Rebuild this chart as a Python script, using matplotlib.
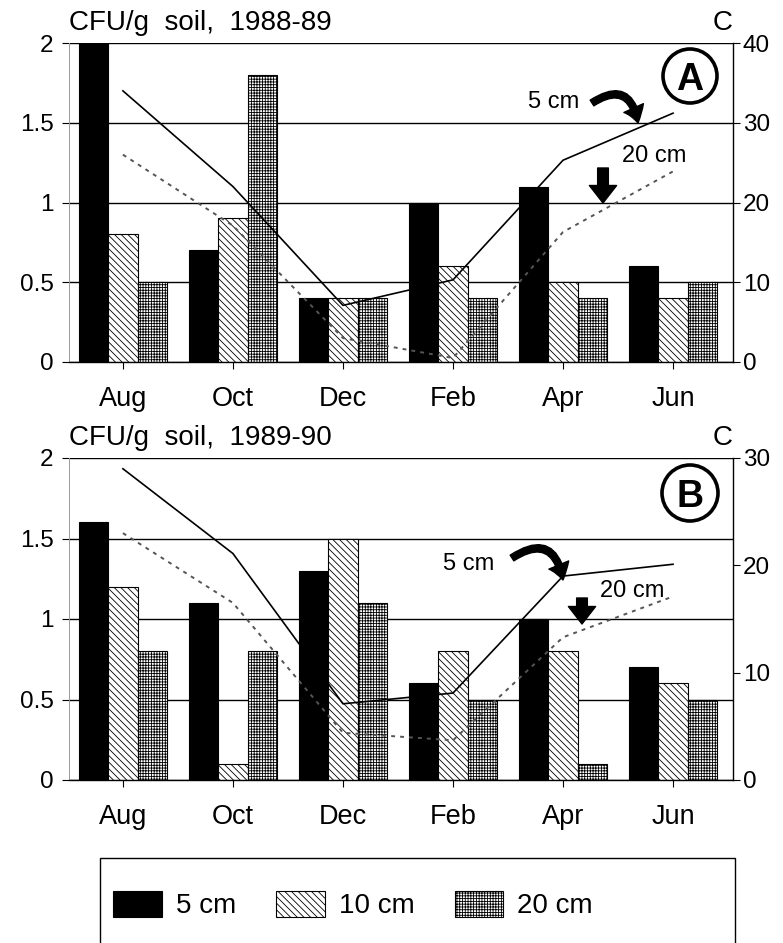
import numpy as np
import matplotlib
matplotlib.use("Agg")
import matplotlib.pyplot as plt
from matplotlib.patches import Ellipse, FancyArrowPatch, Rectangle

plt.rcParams['font.family'] = ['Liberation Sans', 'DejaVu Sans']
plt.rcParams['hatch.linewidth'] = 0.6

# ---------------- data ----------------
months = ['Aug', 'Oct', 'Dec', 'Feb', 'Apr', 'Jun']
depth_labels = ['5 cm', '10 cm', '20 cm']

cfu_a_5 = [2.0, 0.7, 0.4, 1.0, 1.1, 0.6]
cfu_a_10 = [0.8, 0.9, 0.4, 0.6, 0.5, 0.4]
cfu_a_20 = [0.5, 1.8, 0.4, 0.4, 0.4, 0.5]
temp_a_5 = [34.0, 22.0, 7.1, 10.3, 25.3, 31.2]
temp_a_20 = [26.0, 17.1, 3.0, 0.5, 16.3, 23.9]

cfu_b_5 = [1.6, 1.1, 1.3, 0.6, 1.0, 0.7]
cfu_b_10 = [1.2, 0.1, 1.5, 0.8, 0.8, 0.6]
cfu_b_20 = [0.8, 0.8, 1.1, 0.5, 0.1, 0.5]
temp_b_5 = [29.0, 21.1, 7.1, 8.1, 19.0, 20.1]
temp_b_20 = [23.0, 16.5, 4.4, 3.7, 13.3, 17.1]

left_ticks = [0, 0.5, 1, 1.5, 2]
left_ticklabels = ['0', '0.5', '1', '1.5', '2']
right_ticks_a = [0, 10, 20, 30, 40]
right_ticks_b = [0, 10, 20, 30]
title_a = 'CFU/g  soil,  1988-89'
title_b = 'CFU/g  soil,  1989-90'

# ---------------- layout ----------------
W, H = 783, 943
fig = plt.figure(figsize=(W / 100, H / 100), dpi=100)


def fx(x):
    return x / W


def fy(y):
    return 1 - y / H


bw = 0.268
x = np.arange(len(months))

hatch10 = '\\' * 5
hatch20 = '+' * 6


def panel(rect, c5, c10, c20, t5, t20, tmax, rticks):
    ax = fig.add_axes(rect)
    ax.set_xlim(-0.49, 5.545)
    ax.set_ylim(0, 2)
    b5 = ax.bar(x - bw, c5, bw, color='black', edgecolor='black', lw=0.8, zorder=2)
    b10 = ax.bar(x, c10, bw, facecolor='white', edgecolor='black', lw=0.8,
                 hatch=hatch10, zorder=2)
    b20 = ax.bar(x + bw, c20, bw, facecolor='white', edgecolor='black', lw=0.8,
                 hatch=hatch20, zorder=2)
    ax.set_axisbelow(True)
    ax.yaxis.grid(True, color='black', lw=1.0)
    ax.set_yticks(left_ticks)
    ax.set_yticklabels(left_ticklabels)
    ax.set_xticks(x)
    ax.set_xticklabels(months)
    ax.tick_params(axis='y', labelsize=17.5, length=5, width=0.8, pad=6, direction='out')
    ax.tick_params(axis='x', labelsize=19.5, length=5, width=0.8, pad=12, direction='out')
    ax.spines['top'].set_visible(False)
    ax.spines['right'].set_visible(False)
    ax.spines['left'].set_color('#999999')
    ax.spines['left'].set_linewidth(0.7)
    ax.spines['bottom'].set_linewidth(1.0)

    ax2 = ax.twinx()
    ax2.set_ylim(0, tmax)
    ax2.set_yticks(rticks)
    ax2.tick_params(axis='y', labelsize=17.5, length=5, width=0.8, pad=2)
    for s in ['top', 'left', 'bottom']:
        ax2.spines[s].set_visible(False)
    ax2.spines['right'].set_linewidth(1.0)
    ax2.plot(x, t5, color='black', lw=1.2)
    ax2.plot(x, t20, color='#555555', lw=1.4, ls=(0, (2.0, 2.6)))
    return ax, ax2, (b5, b10, b20)


axA, axA2, barsA = panel([fx(69), fy(362), (733 - 69) / W, (362 - 43) / H],
                         cfu_a_5, cfu_a_10, cfu_a_20, temp_a_5, temp_a_20, 40, right_ticks_a)
axB, axB2, barsB = panel([fx(69), fy(780), (733 - 69) / W, (780 - 458) / H],
                         cfu_b_5, cfu_b_10, cfu_b_20, temp_b_5, temp_b_20, 30, right_ticks_b)

# titles
fig.text(fx(69), fy(30), title_a, fontsize=20, va='baseline', ha='left')
fig.text(fx(733), fy(30), 'C', fontsize=20, va='baseline', ha='right')
fig.text(fx(69), fy(445), title_b, fontsize=20, va='baseline', ha='left')
fig.text(fx(733), fy(445), 'C', fontsize=20, va='baseline', ha='right')


# circled letters
def circled(cx, cy, r, letter):
    fig.add_artist(Ellipse((fx(cx), fy(cy)), 2 * r / W, 2 * r / H,
                           transform=fig.transFigure, fc='white', ec='black', lw=2.6))
    fig.text(fx(cx), fy(cy), letter, fontsize=27, fontweight='bold',
             ha='center', va='center_baseline')


circled(690, 76, 27, 'A')
circled(690, 493, 28, 'B')


# annotations
def curved(x0, y0, x1, y1):
    fig.add_artist(FancyArrowPatch((fx(x0), fy(y0)), (fx(x1), fy(y1)),
                                   transform=fig.transFigure,
                                   connectionstyle='arc3,rad=-0.75',
                                   arrowstyle='simple,head_width=1.1,head_length=0.8,tail_width=0.35',
                                   mutation_scale=14, color='black',
                                   shrinkA=0, shrinkB=0))


def down(xc, y0, y1):
    fig.add_artist(FancyArrowPatch((fx(xc), fy(y0)), (fx(xc), fy(y1)),
                                   transform=fig.transFigure,
                                   arrowstyle='simple,head_width=1.4,head_length=0.9,tail_width=0.55',
                                   mutation_scale=14, color='black',
                                   shrinkA=0, shrinkB=0))


fig.text(fx(528), fy(108), '5 cm', fontsize=17, va='baseline')
curved(592, 103, 638, 123)
fig.text(fx(622), fy(162), '20 cm', fontsize=17, va='baseline')
down(603, 168, 203)

fig.text(fx(443), fy(570), '5 cm', fontsize=17, va='baseline')
curved(512, 558, 563, 580)
fig.text(fx(600), fy(597), '20 cm', fontsize=17, va='baseline')
down(582, 598, 624)

# legend box
fig.add_artist(Rectangle((fx(100), fy(960)), (735 - 100) / W, (960 - 858) / H,
                         transform=fig.transFigure, fc='none', ec='black', lw=1.0))
fig.legend(barsA, depth_labels, loc='center left',
           bbox_to_anchor=(fx(91), fy(905)), ncol=3, frameon=False,
           fontsize=20, handlelength=1.75, handleheight=1.1,
           handletextpad=0.5, columnspacing=1.45, borderpad=0.3)

fig.savefig('out.png', dpi=100)
